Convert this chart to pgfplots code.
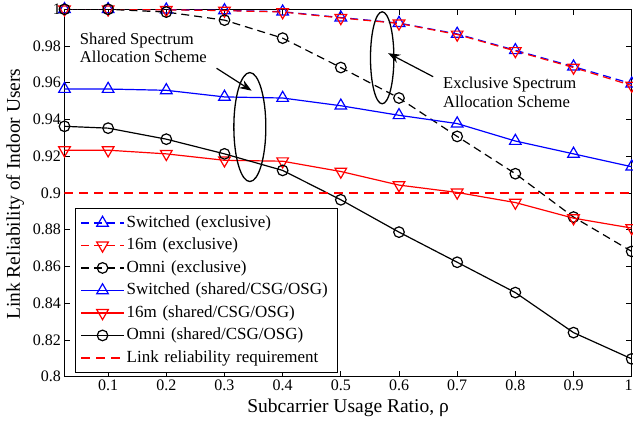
\documentclass[border=0pt]{standalone}
\usepackage{fontspec}
\setmainfont{Liberation Serif}
\usepackage{pgfplots}
\usepackage{pgfplotstable}
\pgfplotsset{compat=1.18}
\usetikzlibrary{arrows.meta}

\pgfplotstableread{
x     bxe    rxe    kxe    bsh    rsh    ksh
0.025 1.0    1.0    1.0    0.9566 0.9233 0.9363
0.1   1.0    1.0    1.0    0.9566 0.9233 0.9353
0.2   0.9998 0.9997 0.9985 0.9559 0.9213 0.9293
0.3   0.9994 0.9993 0.9941 0.9523 0.9178 0.9213
0.4   0.9987 0.9985 0.9843 0.9517 0.9173 0.9123
0.5   0.9955 0.9953 0.9683 0.9475 0.9117 0.8963
0.6   0.9925 0.9923 0.9517 0.9423 0.9043 0.8787
0.7   0.9866 0.9863 0.9308 0.9378 0.9003 0.8623
0.8   0.9777 0.9773 0.9105 0.9283 0.8948 0.8458
0.9   0.9688 0.9683 0.8869 0.9213 0.8863 0.8240
1.0   0.9595 0.9585 0.8682 0.9143 0.8809 0.8097
}\data

\begin{document}
\begin{tikzpicture}
\begin{axis}[
  at={(0,0)}, anchor=south west, scale only axis,
  width=567.2pt, height=367.4pt,
  xmin=0.025, xmax=1, ymin=0.8, ymax=1,
  xtick={0.1,0.2,0.3,0.4,0.5,0.6,0.7,0.8,0.9},
  extra x ticks={1},
  extra x tick style={xticklabel style={xshift=-3pt}},
  ytick={0.8,0.82,0.84,0.86,0.88,0.9,0.92,0.94,0.96,0.98,1},
  scaled ticks=false,
  /pgf/number format/assume math mode=true,
  xticklabel style={/pgf/number format/fixed,/pgf/number format/precision=1},
  yticklabel style={/pgf/number format/fixed,/pgf/number format/precision=2},
  tick label style={font=\fontsize{16}{18}\selectfont},
  tick align=inside, major tick length=6pt,
  tick style={black, line width=0.8pt},
  axis line style={black, line width=0.9pt},
  every axis x label/.style={at={(axis description cs:0.5,0)}, anchor=base, yshift=-36.3pt},
  every axis y label/.style={at={(axis description cs:0,0.497)}, xshift=-44.5pt, rotate=90, anchor=base},
  label style={font=\fontsize{19.5}{23}\selectfont},
  xlabel={Subcarrier Usage Ratio, ρ},
  ylabel={Link Reliability of Indoor Users},
  legend image code/.code={\draw[mark repeat=2,mark phase=2,#1] plot coordinates {(0pt,0pt) (21.5pt,0pt) (43pt,0pt)};},
  legend style={draw=black, line width=0.9pt, fill=white,
    at={(0.0185,0.4592)}, anchor=north west,
    inner xsep=5pt, inner ysep=6pt,
    font=\fontsize{17}{19}\selectfont,
    row sep=5.5pt,
    /tikz/every even column/.append style={column sep=2pt},
    nodes={inner xsep=2pt, inner ysep=0pt, text height=13pt, text depth=4pt, text width=204pt, align=left}},
  legend cell align=left,
]
\addplot[blue, line width=1.2pt, dash pattern=on 8pt off 5pt, mark=triangle, mark size=6.7pt, mark options={solid, line width=1.2pt}] table[x=x,y=bxe]{\data};
\addlegendentry{Switched (exclusive)}
\addplot[red, line width=1.2pt, dash pattern=on 8pt off 5pt, mark=triangle, mark size=6.7pt, mark options={solid, rotate=180, line width=1.2pt}] table[x=x,y=rxe]{\data};
\addlegendentry{16m (exclusive)}
\addplot[black, line width=1.2pt, dash pattern=on 8pt off 5pt, mark=o, mark size=5.3pt, mark options={solid, line width=1.2pt}] table[x=x,y=kxe]{\data};
\addlegendentry{Omni (exclusive)}
\addplot[blue, line width=1.2pt, mark=triangle, mark size=6.7pt, mark options={solid, line width=1.2pt}] table[x=x,y=bsh]{\data};
\addlegendentry{Switched (shared/CSG/OSG)}
\addplot[red, line width=1.2pt, mark=triangle, mark size=6.7pt, mark options={solid, rotate=180, line width=1.2pt}] table[x=x,y=rsh]{\data};
\addlegendentry{16m (shared/CSG/OSG)}
\addplot[black, line width=1.2pt, mark=o, mark size=5.3pt, mark options={solid, line width=1.2pt}] table[x=x,y=ksh]{\data};
\addlegendentry{Omni (shared/CSG/OSG)}
\addplot[red, line width=1.2pt, dash pattern=on 9pt off 6pt] coordinates {(0.025,0.9) (1,0.9)};
\addlegendentry{Link reliability requirement}

% annotations
\draw[line width=1.3pt] (axis cs:0.3436,0.9359) ellipse [x radius=16pt, y radius=54.5pt];
\draw[line width=1.2pt, -{Stealth[length=12pt,width=9pt]}] (axis cs:0.2864,0.9679) -- (axis cs:0.3466,0.9557);
\node[anchor=west, align=left, inner sep=0pt, font=\fontsize{16.6}{18.4}\selectfont] at (axis cs:0.0513,0.9789) {Shared Spectrum\\Allocation Scheme};

\draw[line width=1.3pt] (axis cs:0.5711,0.9736) ellipse [x radius=11.7pt, y radius=46pt];
\draw[line width=1.2pt, -{Stealth[length=12pt,width=9pt]}] (axis cs:0.6588,0.9633) -- (axis cs:0.5814,0.9761);
\node[anchor=west, align=left, inner sep=0pt, font=\fontsize{16.6}{18.4}\selectfont] at (axis cs:0.6755,0.9547) {Exclusive Spectrum\\Allocation Scheme};
\end{axis}
\pgfresetboundingbox
\path[use as bounding box] (-64.5pt,-46.3pt) rectangle (568.5pt,376.7pt);
\end{tikzpicture}
\end{document}
